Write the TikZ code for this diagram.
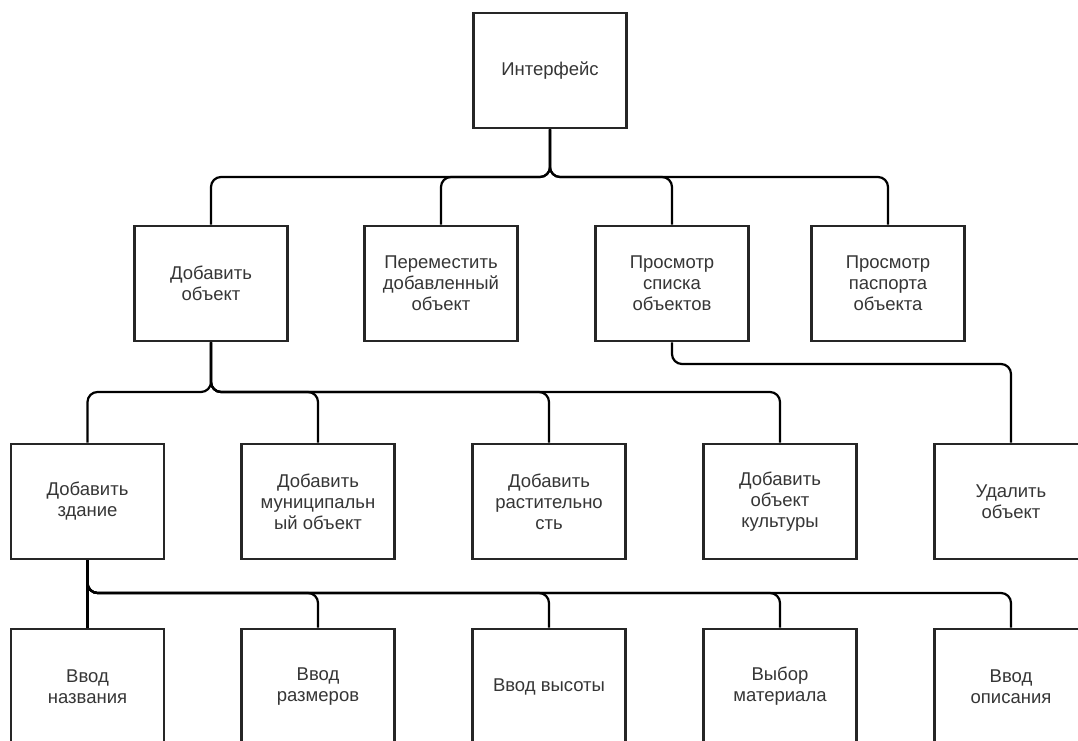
\documentclass[tikz,border=0pt]{standalone}
\usepackage{fontspec}
\setmainfont{Liberation Sans}
\definecolor{boxc}{HTML}{262626}
\definecolor{txt}{HTML}{363636}
\begin{document}
\begin{tikzpicture}[x=1pt,y=-1pt,
  box/.style={draw=boxc, line width=2.6pt, minimum width=153pt, minimum height=115pt, inner sep=2pt, align=center, text=txt, font=\fontsize{18.5}{21}\selectfont},
  link/.style={draw=black, line width=2.2pt, rounded corners=10pt}]
\fill[white] (0,0) rectangle (1078,740);
\useasboundingbox (0,0) rectangle (1078,740);
% level 1
\node[box] (int) at (550,70.5) {Интерфейс};
% level 2
\node[box] (dob) at (211,283.5) {Добавить\\объект};
\node[box] (per) at (441,283.5) {Переместить\\добавленный\\объект};
\node[box] (spi) at (672,283.5) {Просмотр\\списка\\объектов};
\node[box] (pas) at (888,283.5) {Просмотр\\паспорта\\объекта};
% level 3
\node[box] (zd)  at (87.5,501.5) {Добавить\\здание};
\node[box] (mun) at (318,501.5) {Добавить\\муниципальн\\ый объект};
\node[box] (ras) at (549,501.5) {Добавить\\растительно\\сть};
\node[box] (kul) at (780,501.5) {Добавить\\объект\\культуры};
\node[box] (ud)  at (1011,501.5) {Удалить\\объект};
% level 4
\node[box] (vn) at (87.5,686.5) {Ввод\\названия};
\node[box] (vr) at (318,686.5) {Ввод\\размеров};
\node[box] (vv) at (549,686.5) {Ввод высоты};
\node[box] (vm) at (780,686.5) {Выбор\\материала};
\node[box] (vo) at (1011,686.5) {Ввод\\описания};
% bus levels
\coordinate (y1) at (0,177);
\coordinate (y2) at (0,392);
\coordinate (y3) at (0,364);
\coordinate (y4) at (0,593);
% connectors
\draw[link] (int.south) -- (int.south |- y1) -| (dob.north);
\draw[link] (int.south) -- (int.south |- y1) -| (per.north);
\draw[link] (int.south) -- (int.south |- y1) -| (spi.north);
\draw[link] (int.south) -- (int.south |- y1) -| (pas.north);
\draw[link] (dob.south) -- (dob.south |- y2) -| (zd.north);
\draw[link] (dob.south) -- (dob.south |- y2) -| (mun.north);
\draw[link] (dob.south) -- (dob.south |- y2) -| (ras.north);
\draw[link] (dob.south) -- (dob.south |- y2) -| (kul.north);
\draw[link] (spi.south) -- (spi.south |- y3) -| (ud.north);
\draw[link] (zd.south) -- (vn.north);
\draw[link] (zd.south) -- (zd.south |- y4) -| (vr.north);
\draw[link] (zd.south) -- (zd.south |- y4) -| (vv.north);
\draw[link] (zd.south) -- (zd.south |- y4) -| (vm.north);
\draw[link] (zd.south) -- (zd.south |- y4) -| (vo.north);
\end{tikzpicture}
\end{document}
